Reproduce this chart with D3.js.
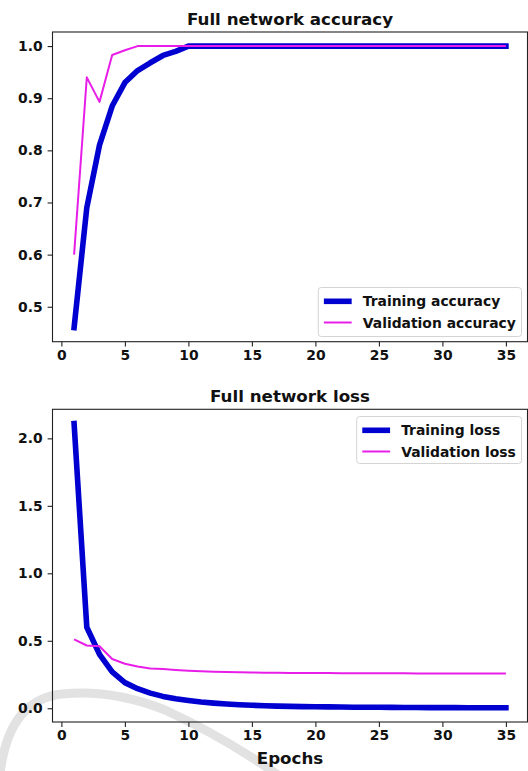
<!DOCTYPE html>
<html><head><meta charset="utf-8">
<script src="https://cdn.jsdelivr.net/npm/d3@7/dist/d3.min.js"></script>
<style>
body{margin:0;background:#fff}
svg{display:block}
text{font-family:"DejaVu Sans",sans-serif;font-weight:bold;fill:#111}
</style>
</head><body>
<svg id="c" width="528" height="771"></svg>
<script>
const epochs=[1,2,3,4,5,6,7,8,9,10,11,12,13,14,15,16,17,18,19,20,21,22,23,24,25,26,27,28,29,30,31,32,33,34,35];
const trainAcc=[0.46,0.69,0.81,0.885,0.93,0.953,0.968,0.982,0.99,1.0,1.0,1.0,1.0,1.0,1.0,1.0,1.0,1.0,1.0,1.0,1.0,1.0,1.0,1.0,1.0,1.0,1.0,1.0,1.0,1.0,1.0,1.0,1.0,1.0,1.0];
const valAcc=[0.60,0.94,0.893,0.983,0.992,1.0,1.0,1.0,1.0,1.0,1.0,1.0,1.0,1.0,1.0,1.0,1.0,1.0,1.0,1.0,1.0,1.0,1.0,1.0,1.0,1.0,1.0,1.0,1.0,1.0,1.0,1.0,1.0,1.0,1.0];
const trainLoss=[2.11,0.60,0.40,0.27,0.19,0.145,0.112,0.088,0.070,0.057,0.046,0.038,0.031,0.026,0.022,0.019,0.016,0.014,0.012,0.011,0.010,0.009,0.008,0.0075,0.007,0.0065,0.006,0.0055,0.005,0.0048,0.0045,0.0042,0.004,0.0038,0.0035];
const valLoss=[0.51,0.465,0.46,0.365,0.33,0.31,0.295,0.29,0.284,0.278,0.274,0.271,0.268,0.266,0.265,0.264,0.263,0.262,0.262,0.261,0.261,0.260,0.260,0.260,0.259,0.259,0.259,0.258,0.258,0.258,0.258,0.257,0.257,0.257,0.257];
const xTicks=[0,5,10,15,20,25,30,35];
const accTicks=[0.5,0.6,0.7,0.8,0.9,1.0];
const lossTicks=[0.0,0.5,1.0,1.5,2.0];
const titles=["Full network accuracy","Full network loss"];
const accLabels=["Training accuracy","Validation accuracy"];
const lossLabels=["Training loss","Validation loss"];
const xLabel="Epochs";

const trainColor="#0000d0", valColor="#e81ee8";
const svg=d3.select("#c");

// faint background watermark arc (as in the reference scan)
svg.append("path")
  .attr("d","M0,775 Q8,700 62,694 Q112,689 165,710 Q222,736 278,775")
  .attr("fill","none").attr("stroke","#e2e2e2").attr("stroke-width",9);

function pad(ext){const r=ext[1]-ext[0];return [ext[0]-0.05*r,ext[1]+0.05*r];}

function panel(o){
  const g=svg.append("g");
  const x=d3.scaleLinear().domain(pad(d3.extent(epochs))).range([o.left,o.right]);
  const all=o.series.flatMap(s=>s.values);
  const y=d3.scaleLinear().domain(pad(d3.extent(all))).range([o.bottom,o.top]);
  const cid="clip"+o.id;
  svg.append("clipPath").attr("id",cid).append("rect")
    .attr("x",o.left).attr("y",o.top).attr("width",o.right-o.left).attr("height",o.bottom-o.top);
  const lg=g.append("g").attr("clip-path",`url(#${cid})`);
  o.series.forEach(s=>{
    const line=d3.line().x((d,i)=>x(epochs[i])).y(d=>y(d));
    lg.append("path").attr("d",line(s.values)).attr("fill","none")
      .attr("stroke",s.color).attr("stroke-width",s.w)
      .attr("stroke-linejoin","round").attr("stroke-linecap",s.cap);
  });
  // axes
  const ax=g.append("g").attr("transform",`translate(0,${o.bottom})`)
    .call(d3.axisBottom(x).tickValues(xTicks).tickSize(4.9).tickPadding(3.5).tickFormat(d3.format("d")));
  const ay=g.append("g").attr("transform",`translate(${o.left},0)`)
    .call(d3.axisLeft(y).tickValues(o.yTicks).tickSize(4.9).tickPadding(4.9).tickFormat(d3.format(".1f")));
  [ax,ay].forEach(a=>{a.select(".domain").remove();
    a.selectAll(".tick line").attr("stroke","#222").attr("stroke-width",1.1);
    a.selectAll(".tick text").attr("font-size","13.9px").attr("font-family","DejaVu Sans").attr("font-weight","bold").attr("fill","#111");});
  g.append("rect").attr("x",o.left).attr("y",o.top).attr("width",o.right-o.left).attr("height",o.bottom-o.top)
    .attr("fill","none").attr("stroke","#222").attr("stroke-width",1.1);
  g.append("text").attr("x",(o.left+o.right)/2).attr("y",o.top-7.5).attr("text-anchor","middle")
    .attr("font-size","16.7px").text(o.title);
  if(o.xlabel){
    g.append("text").attr("x",(o.left+o.right)/2).attr("y",o.bottom+42).attr("text-anchor","middle")
      .attr("font-size","16.7px").text(o.xlabel);
  }
  // legend
  const L=g.append("g");
  const fs=13.9;
  const texts=o.series.map((s,i)=>L.append("text").attr("font-size",fs+"px").text(s.label));
  const tw=d3.max(texts,t=>t.node().getComputedTextLength());
  const bw=5.6+27.8+11.1+tw+5.6;
  const bh=o.legH;
  const bx=o.legRight-bw;
  const by=o.legTop;
  L.insert("rect",":first-child").attr("x",bx).attr("y",by).attr("width",bw).attr("height",bh)
    .attr("rx",3).attr("fill","#fff").attr("fill-opacity",0.8).attr("stroke","#d4d4d4").attr("stroke-width",1);
  o.series.forEach((s,i)=>{
    const cy=by+13.8+i*21.2;
    L.append("line").attr("x1",bx+5.6+ (s.cap==="square"?s.w/2:0)).attr("x2",bx+5.6+27.8-(s.cap==="square"?s.w/2:0))
      .attr("y1",cy).attr("y2",cy).attr("stroke",s.color).attr("stroke-width",s.w).attr("stroke-linecap",s.cap);
    texts[i].attr("x",bx+5.6+27.8+11.1).attr("y",cy+5);
    texts[i].raise();
  });
}

panel({id:1,left:52.5,right:527.5,top:32,bottom:341.7,title:titles[0],yTicks:accTicks,
  series:[{values:trainAcc,color:trainColor,w:5.6,cap:"square",label:accLabels[0]},
          {values:valAcc,color:valColor,w:2,cap:"butt",label:accLabels[1]}],
  legRight:521.5,legTop:287.5,legH:49});
panel({id:2,left:52.5,right:527.5,top:409.3,bottom:722,title:titles[1],yTicks:lossTicks,xlabel:xLabel,
  series:[{values:trainLoss,color:trainColor,w:5.6,cap:"square",label:lossLabels[0]},
          {values:valLoss,color:valColor,w:2,cap:"butt",label:lossLabels[1]}],
  legRight:521.5,legTop:416.5,legH:47});
</script>
</body></html>
